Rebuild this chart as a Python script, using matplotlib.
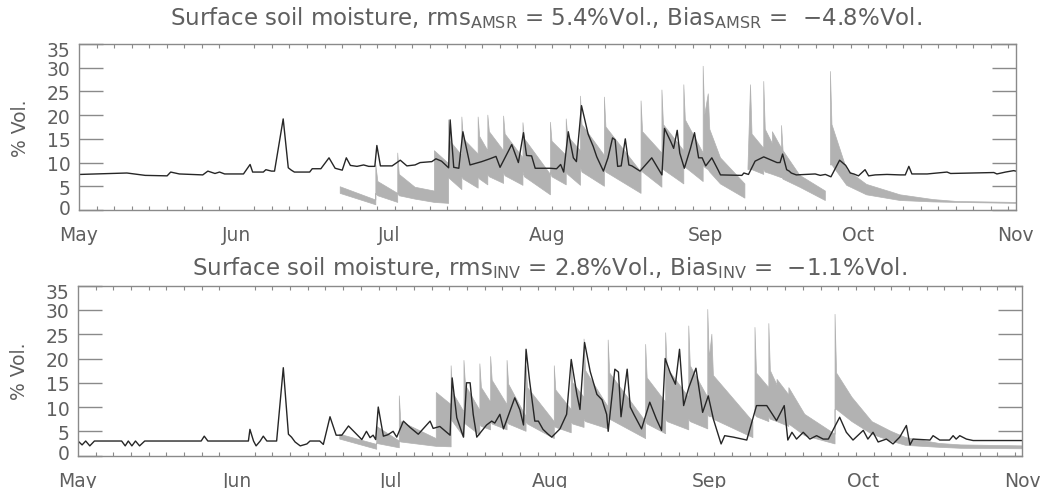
import numpy as np
import matplotlib
matplotlib.use("Agg")
import matplotlib.pyplot as plt
from matplotlib.transforms import ScaledTranslation

# x values are days since 1 May
month_days = [0, 31, 61, 92, 123, 153, 184]
month_names = ["May", "Jun", "Jul", "Aug", "Sep", "Oct", "Nov"]

# --- upper panel: AMSR retrieval (black line) ---
amsr_day = [0.2, 9.4, 13.0, 17.3, 18.0, 19.7, 24.3, 25.3, 26.7, 27.6, 28.6, 32.3, 33.6, 34.1,
            36.2, 36.7, 37.8, 38.4, 40.1, 41.1, 41.7, 42.3, 45.3, 45.8, 47.5, 49.1, 50.3, 51.7,
            52.5, 53.3, 54.6, 55.9, 56.9, 58.1, 58.5, 59.2, 61.5, 63.1, 64.4, 66.0, 67.0, 69.3,
            70.1, 71.2, 72.6, 72.9, 73.6, 74.6, 75.4, 76.2, 76.8, 77.8, 79.1, 80.7, 81.9, 82.7,
            85.0, 86.3, 87.3, 87.9, 88.9, 89.6, 92.5, 93.8, 94.6, 95.2, 96.1, 97.1, 97.7, 98.7,
            100.0, 101.0, 101.7, 103.0, 103.9, 104.8, 105.3, 105.8, 106.5, 107.3, 108.0, 108.6,
            110.2, 112.5, 114.5, 115.0, 116.2, 116.8, 117.5, 118.0, 118.9, 120.1, 120.9, 121.7,
            122.4, 123.1, 124.3, 125.6, 126.0, 130.2, 130.6, 131.5, 132.8, 134.5, 137.1, 137.7,
            138.2, 139.0, 139.5, 139.9, 140.9, 144.6, 145.6, 146.6, 147.7, 149.4, 150.6, 151.5,
            152.2, 153.1, 154.4, 155.1, 156.4, 158.7, 161.3, 162.3, 163.0, 163.6, 166.6, 170.5,
            171.2, 175.7, 179.7, 180.3, 182.0, 183.6, 184.0]
amsr_val = [7.5, 7.8, 7.3, 7.2, 8.0, 7.6, 7.4, 8.2, 7.7, 8.0, 7.6, 7.6, 9.6, 8.0,
            8.0, 8.5, 8.2, 8.2, 19.2, 8.9, 8.4, 8.0, 8.0, 8.7, 8.7, 11.0, 8.8, 8.4,
            11.0, 9.4, 9.2, 9.5, 9.2, 9.2, 13.6, 9.3, 9.3, 10.5, 9.3, 9.5, 10.0, 10.2,
            10.8, 10.3, 8.9, 19.0, 9.0, 8.8, 16.5, 12.5, 9.5, 9.8, 10.2, 10.8, 11.3, 9.0,
            13.8, 10.0, 16.3, 11.5, 11.4, 8.8, 8.8, 8.7, 9.6, 8.0, 16.5, 11.0, 10.2, 22.0,
            16.0, 13.4, 11.2, 8.2, 11.0, 15.2, 14.8, 9.2, 9.3, 15.0, 9.5, 9.3,
            8.2, 11.0, 7.4, 17.2, 14.5, 13.0, 16.8, 12.0, 8.8, 13.0, 16.3, 11.0,
            11.0, 9.3, 11.0, 8.3, 7.4, 7.3, 7.8, 7.5, 10.3, 11.2, 10.0, 10.0,
            11.8, 8.5, 8.2, 7.8, 7.4, 7.6, 7.3, 7.5, 7.0, 10.5, 9.4, 7.8,
            7.6, 7.2, 8.5, 7.2, 7.4, 7.5, 7.4, 7.4, 9.2, 7.6, 7.6, 8.0,
            7.7, 7.8, 7.9, 7.6, 8.0, 8.3, 8.2]

# --- upper panel: reference soil moisture band (grey) ---
top_band_day = [51.3, 58.3, 58.3, 58.7, 62.6, 62.6, 62.9, 66.0, 69.8, 69.8, 72.6, 72.6, 72.9,
                75.2, 75.2, 75.5, 78.4, 78.4, 78.7, 80.3, 80.3, 80.6, 83.4, 83.4, 83.7, 87.2,
                87.2, 87.5, 92.6, 92.6, 92.9, 95.7, 95.7, 96.0, 98.5, 98.5, 98.8, 103.2, 103.2,
                103.5, 110.4, 110.4, 110.7, 114.5, 114.5, 114.8, 118.8, 118.8, 119.1, 122.6,
                122.6, 122.9, 123.6, 123.9, 126.0, 130.8, 131.0, 131.4, 131.9, 132.2, 134.5,
                134.5, 134.8, 136.2, 136.2, 138.0, 138.0, 138.3, 141.6, 146.6, 147.0, 147.6,
                147.6, 147.9, 150.8, 154.7, 161.3, 167.8, 172.4, 184.0]
top_band_lo = [3.5, 1.1, 3.5, 3.0, 1.6, 3.5, 3.0, 2.3, 1.6, 1.6, 1.4, 6.8, 6.5,
               4.3, 7.0, 6.5, 4.6, 7.0, 6.5, 5.3, 7.5, 7.0, 5.6, 7.8, 7.2, 5.2,
               8.0, 7.0, 3.2, 8.0, 7.0, 5.3, 8.0, 7.5, 5.2, 9.0, 8.0, 5.0, 9.0,
               8.0, 3.5, 9.0, 8.0, 4.8, 9.0, 8.5, 5.5, 9.5, 9.0, 6.0,
               9.5, 9.0, 8.5, 8.0, 5.5, 2.5, np.nan, 8.5, 8.5, 8.5, 7.5,
               8.5, 8.0, 7.5, 7.5, 6.8, 7.0, 6.5, 4.8, 2.0, np.nan, 9.5,
               9.5, 9.5, 5.2, 3.2, 2.0, 1.7, 1.6, 1.4]
top_band_hi = [4.9, 2.1, 9.5, 6.0, 3.5, 12.0, 7.5, 4.8, 4.0, 12.5, 9.8, 19.0, 14.5,
               11.5, 19.6, 15.0, 11.8, 19.6, 15.5, 12.5, 20.0, 16.5, 12.5, 19.8, 16.0, 11.0,
               18.4, 15.0, 7.5, 18.5, 14.5, 11.5, 19.2, 15.5, 12.5, 24.0, 18.0, 11.5, 23.8,
               17.5, 8.0, 23.0, 16.5, 12.0, 25.3, 18.0, 12.5, 26.4, 19.0, 12.0,
               30.3, 20.0, 24.5, 17.0, 11.0, 5.5, np.nan, 9.0, 26.4, 16.0, 13.0,
               27.1, 17.0, 14.0, 16.5, 13.0, 17.8, 12.5, 7.3, 4.0, np.nan, 9.5,
               29.2, 18.0, 8.5, 5.4, 3.2, 2.2, 1.8, 1.6]

# --- lower panel: inversion retrieval (black line) ---
inv_day = [0.0, 0.8, 1.5, 2.3, 3.2, 8.5, 9.2, 9.8, 10.5, 11.2, 12.0, 13.0, 24.0, 24.6, 25.3,
           33.2, 33.5, 34.2, 34.7, 35.5, 36.1, 36.8, 38.7, 40.0, 41.0, 41.6, 42.3, 43.3, 44.6,
           45.2, 47.1, 47.8, 49.1, 50.3, 51.4, 52.7, 54.0, 55.3, 56.2, 56.9, 57.5, 58.0, 58.5,
           59.5, 60.4, 61.4, 62.1, 63.4, 64.7, 66.3, 68.6, 69.2, 70.5, 72.5, 72.9, 73.8, 75.1,
           75.7, 76.4, 77.0, 77.7, 79.6, 80.6, 81.2, 82.2, 82.9, 85.1, 86.1, 86.8, 87.3, 88.0,
           89.0, 89.7, 90.6, 91.6, 92.3, 93.9, 95.2, 96.1, 97.2, 97.8, 98.7, 99.8, 101.1,
           102.1, 103.0, 103.3, 104.6, 105.3, 105.8, 107.0, 107.6, 108.3, 109.8, 111.4, 112.7,
           113.7, 114.4, 115.4, 116.4, 117.2, 118.0, 119.0, 120.4, 121.7, 122.8, 123.8, 125.3,
           126.0, 127.7, 130.3, 132.2, 134.2, 136.1, 137.6, 138.3, 139.1, 140.0, 141.3, 142.6,
           143.9, 145.2, 146.2, 148.4, 149.7, 151.0, 153.0, 153.9, 154.9, 155.9, 157.5, 158.8,
           160.1, 161.4, 162.1, 162.7, 166.0, 166.6, 167.9, 169.8, 170.5, 171.1, 171.8, 173.1,
           174.4, 184.0]
inv_val = [3.0, 2.2, 3.0, 2.0, 3.0, 3.0, 2.0, 3.0, 2.0, 3.0, 2.0, 3.0, 3.0, 4.0, 3.0,
           3.0, 5.4, 3.0, 2.0, 3.0, 4.0, 3.0, 3.0, 18.1, 4.4, 3.8, 2.8, 2.0, 2.4,
           3.0, 3.0, 2.3, 8.0, 4.2, 4.2, 6.1, 4.7, 3.3, 5.0, 3.7, 4.2, 3.3, 10.0,
           4.0, 4.3, 5.0, 3.8, 7.1, 5.8, 4.4, 7.1, 5.6, 6.0, 4.2, 16.0, 7.8, 3.8,
           15.0, 15.0, 8.5, 3.8, 6.3, 7.1, 6.7, 8.5, 5.5, 11.9, 9.4, 6.3, 21.9, 15.3,
           7.1, 7.1, 5.4, 4.4, 3.8, 5.5, 8.5, 19.8, 12.6, 9.5, 23.3, 17.3, 12.6,
           11.5, 8.5, 5.0, 17.8, 17.2, 8.0, 17.8, 10.0, 8.5, 5.5, 11.0, 7.5,
           5.2, 20.0, 17.0, 14.7, 21.9, 10.3, 14.0, 18.0, 8.9, 12.3, 7.5, 2.4,
           4.1, 3.8, 3.2, 10.3, 10.3, 7.2, 10.3, 3.2, 4.8, 3.4, 4.8, 3.4,
           4.1, 3.4, 3.4, 7.9, 4.8, 3.2, 5.2, 3.4, 4.8, 2.8, 3.4, 2.4,
           3.8, 6.2, 2.2, 3.4, 3.2, 4.1, 3.2, 3.2, 4.1, 3.4, 4.1, 3.4,
           3.1, 3.1]

# --- lower panel: reference soil moisture band (grey) ---
bot_band_day = [51.0, 58.2, 58.2, 62.6, 62.6, 62.9, 69.8, 69.8, 72.7, 72.7, 73.0, 75.2, 75.2,
                75.5, 78.3, 78.3, 78.6, 80.4, 80.4, 80.7, 83.6, 83.6, 83.9, 87.3, 87.3, 87.6,
                92.8, 92.8, 93.1, 96.1, 96.1, 96.4, 98.6, 98.6, 98.9, 103.3, 103.3, 103.6,
                110.6, 110.6, 110.9, 114.5, 114.5, 114.8, 119.0, 119.0, 119.3, 122.7, 122.7,
                123.0, 123.5, 123.8, 131.5, 131.7, 131.9, 131.9, 132.2, 134.6, 134.6, 134.9,
                136.2, 136.2, 138.5, 138.5, 141.6, 147.5, 147.5, 147.8, 150.8, 154.7, 158.4,
                161.3, 167.8, 172.0, 184.0]
bot_band_lo = [3.4, 1.3, 2.5, 1.6, 3.0, 2.8, 1.9, 1.9, 1.8, 7.5, 7.0, 3.8, 7.0,
               6.5, 4.2, 6.5, 6.0, 5.3, 7.0, 6.5, 5.3, 7.0, 6.5, 5.0, 7.0, 6.5,
               3.5, 6.0, 5.8, 4.7, 7.0, 6.5, 5.8, 7.5, 7.0, 5.5, 7.8, 7.5,
               3.5, 7.0, 6.5, 4.5, 7.5, 7.0, 5.3, 7.5, 7.0, 5.5, 8.5,
               8.0, 8.0, 7.5, 3.7, np.nan, 8.5, 8.5, 8.0, 7.0, 8.0, 7.5,
               7.0, 7.0, 6.0, 6.5, 4.1, 2.4, 9.5, 9.5, 7.0, 4.4, 3.0,
               2.1, 1.7, 1.5, 1.4]
bot_band_hi = [4.4, 2.3, 6.0, 3.0, 12.3, 7.0, 3.5, 13.0, 10.5, 18.5, 13.0, 9.0, 19.6,
               14.5, 9.3, 18.9, 14.0, 11.0, 20.4, 15.5, 10.5, 19.6, 14.7, 8.0, 18.5, 14.0,
               7.0, 18.5, 13.5, 9.5, 19.5, 15.0, 12.0, 24.0, 17.5, 10.0, 23.8, 17.0,
               7.0, 22.9, 16.0, 11.0, 25.3, 18.0, 12.0, 26.7, 18.5, 12.0, 30.1,
               20.0, 25.0, 16.5, 7.0, np.nan, 9.0, 26.4, 17.0, 14.0, 27.2, 17.5,
               14.5, 15.7, 12.5, 14.0, 8.5, 4.4, 29.1, 17.0, 12.0, 7.0, 5.0,
               3.7, 2.5, 2.2, 2.0]

titles = [r"Surface soil moisture, rms$_{\mathregular{AMSR}}$ = 5.4%Vol., Bias$_{\mathregular{AMSR}}$ =  $-$4.8%Vol.",
          r"Surface soil moisture, rms$_{\mathregular{INV}}$ = 2.8%Vol., Bias$_{\mathregular{INV}}$ =  $-$1.1%Vol."]

band_color = "#b2b2b2"
line_color = "#262626"
frame_color = "#8a8a8a"
text_color = "#5f5f5f"

plt.rcParams["font.family"] = "DejaVu Sans"
plt.rcParams["mathtext.fontset"] = "dejavusans"

fig = plt.figure(figsize=(10.54, 4.89), dpi=100)
ax_top = fig.add_axes([0.075, 0.5685, 0.8887, 0.3395])
ax_bot = fig.add_axes([0.074, 0.0663, 0.896, 0.3474])

panels = [
    (ax_top, top_band_day, top_band_lo, top_band_hi, amsr_day, amsr_val),
    (ax_bot, bot_band_day, bot_band_lo, bot_band_hi, inv_day, inv_val),
]

for ax, bd, blo, bhi, ld, lv in panels:
    ax.fill_between(bd, blo, bhi, color=band_color, linewidth=0.5, edgecolor=band_color)
    ax.plot(ld, lv, color=line_color, linewidth=1.0)

    ax.set_xlim(0, 184)
    ax.set_ylim(0, 35)
    ax.set_xticks(month_days)
    ax.set_xticklabels(month_names)
    ax.set_xticks(np.arange(31 / 9, 184, 31 / 9), minor=True)
    ax.tick_params(axis="x", which="major", length=0, pad=11, labelsize=13.5,
                   labelcolor=text_color)
    ax.tick_params(axis="x", which="minor", direction="in", length=3, width=0.8,
                   color=frame_color, top=True, bottom=True)
    ax.set_yticks(range(0, 36, 5))
    ax.tick_params(axis="y", which="major", direction="in", length=17, width=1.0,
                   color=frame_color, left=True, right=True, labelsize=13.5,
                   labelcolor=text_color, pad=6)
    ax.set_ylabel("% Vol.", fontsize=13.5, color=text_color)
    ax.yaxis.set_label_coords(-0.052, 0.5)
    for sp in ax.spines.values():
        sp.set_color(frame_color)
        sp.set_linewidth(1.0)

    # IDL squeezes the end labels inside the axis range
    labels = ax.get_yticklabels()
    labels[0].set_transform(labels[0].get_transform() + ScaledTranslation(0, 4 / 100, fig.dpi_scale_trans))
    labels[-1].set_transform(labels[-1].get_transform() + ScaledTranslation(0, -5 / 100, fig.dpi_scale_trans))

fig.text(0.518, 0.963, titles[0], ha="center", va="center", fontsize=16.5, color=text_color)
fig.text(0.521, 0.452, titles[1], ha="center", va="center", fontsize=16.5, color=text_color)

fig.savefig("out.png", dpi=100)
